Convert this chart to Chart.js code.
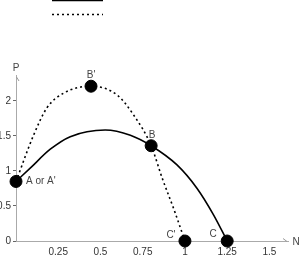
<!DOCTYPE html>
<html>
<head>
<meta charset="utf-8">
<script src="https://cdn.jsdelivr.net/npm/chart.js@4/dist/chart.umd.min.js"></script>
<style>
  html, body { margin: 0; padding: 0; background: #fff; }
</style>
</head>
<body>
<canvas id="chart" width="300" height="256"></canvas>
<script>
// Solid curve A -> B -> C
const solidX = [0, 0.084, 0.203, 0.321, 0.528, 0.677, 0.80, 0.953, 1.072, 1.17, 1.25];
const solidY = [0.85, 1.04, 1.31, 1.49, 1.585, 1.51, 1.36, 1.086, 0.75, 0.37, 0];

// Dotted curve A' -> B' -> B -> C'
const dottedX = [0, 0.104, 0.183, 0.281, 0.444, 0.598, 0.696, 0.80, 0.865, 0.935, 1.0];
const dottedY = [0.85, 1.51, 1.90, 2.11, 2.21, 2.086, 1.80, 1.36, 0.90, 0.45, 0];

// Named points
const pointNames = ["A or A'", "B'", "B", "C'", "C"];
const pointX = [0, 0.444, 0.80, 1.0, 1.25];
const pointY = [0.85, 2.21, 1.36, 0, 0];

// Tick labels
const xTicks = [0.25, 0.5, 0.75, 1, 1.25, 1.5];
const yTicks = [0, 0.5, 1, 1.5, 2];

const FONT = 'Liberation Sans, Arial, sans-serif';
const toPoints = (xs, ys) => xs.map((x, i) => ({ x: x, y: ys[i] }));

// Label offsets next to each named point (pixels)
const labelOffsets = [
    { dx: 10, dy: 0, align: 'left' },
    { dx: 0, dy: -11, align: 'center' },
    { dx: 1, dy: -10, align: 'center' },
    { dx: -14, dy: -6, align: 'center' },
    { dx: -14, dy: -7, align: 'center' }
];

/**
 * Axis names, arrow heads, point labels and the two legend lines
 */
const decorations = {
    id: 'decorations',
    afterDatasetsDraw(chart) {
        const ctx = chart.ctx;
        const area = chart.chartArea;
        ctx.save();

        // arrow heads
        ctx.strokeStyle = '#999';
        ctx.lineWidth = 1;
        ctx.beginPath();
        ctx.moveTo(area.left + 0.5, area.top + 2);
        ctx.lineTo(area.left + 3, area.top + 6);
        ctx.moveTo(area.right - 1, area.bottom + 0.5);
        ctx.lineTo(area.right - 5, area.bottom - 2.5);
        ctx.stroke();

        // axis names
        ctx.fillStyle = '#444';
        ctx.font = '10px ' + FONT;
        ctx.textAlign = 'center';
        ctx.textBaseline = 'middle';
        ctx.fillText('P', area.left, area.top - 7);
        ctx.fillText('N', area.right + 8, area.bottom + 1);

        // point labels
        const meta = chart.getDatasetMeta(2);
        meta.data.forEach((el, i) => {
            const off = labelOffsets[i];
            ctx.textAlign = off.align;
            ctx.fillText(pointNames[i], el.x + off.dx, el.y + off.dy);
        });

        // legend lines
        [0, 1].forEach((idx, row) => {
            const ds = chart.data.datasets[idx];
            ctx.strokeStyle = ds.borderColor;
            ctx.lineWidth = ds.borderWidth;
            ctx.setLineDash(ds.borderDash || []);
            ctx.beginPath();
            ctx.moveTo(52, 0.5 + row * 14);
            ctx.lineTo(103, 0.5 + row * 14);
            ctx.stroke();
        });
        ctx.restore();
    }
};

new Chart(document.getElementById('chart'), {
    type: 'line',
    data: {
        datasets: [
            {
                label: 'solid',
                data: toPoints(solidX, solidY),
                borderColor: '#000',
                borderWidth: 1.6,
                pointRadius: 0,
                cubicInterpolationMode: 'monotone',
                fill: false,
                clip: false
            },
            {
                label: 'dotted',
                data: toPoints(dottedX, dottedY),
                borderColor: '#000',
                borderWidth: 1.6,
                borderDash: [2, 3],
                pointRadius: 0,
                cubicInterpolationMode: 'monotone',
                fill: false,
                clip: false
            },
            {
                label: 'points',
                data: toPoints(pointX, pointY),
                showLine: false,
                pointRadius: 6,
                pointBackgroundColor: '#000',
                pointBorderColor: '#000',
                clip: false
            }
        ]
    },
    options: {
        responsive: false,
        animation: false,
        layout: { padding: { top: 75, right: 12, left: 0, bottom: 0 } },
        plugins: {
            legend: { display: false },
            tooltip: { enabled: false }
        },
        scales: {
            x: {
                type: 'linear',
                min: 0,
                max: 1.61,
                afterBuildTicks: (scale) => { scale.ticks = xTicks.map(v => ({ value: v })); },
                afterFit: (scale) => { scale.height = 15; },
                grid: { display: false, drawTicks: false, tickLength: 0 },
                border: { color: '#aaa', width: 1 },
                ticks: {
                    color: '#333',
                    padding: 5,
                    maxRotation: 0,
                    autoSkip: false,
                    font: { size: 10, family: FONT },
                    callback: (v) => String(v)
                }
            },
            y: {
                type: 'linear',
                min: 0,
                max: 2.37,
                afterBuildTicks: (scale) => { scale.ticks = yTicks.map(v => ({ value: v })); },
                afterFit: (scale) => { scale.width = 16; },
                grid: { drawOnChartArea: false, tickLength: 3, color: '#666' },
                border: { color: '#aaa', width: 1 },
                ticks: {
                    color: '#333',
                    padding: 2,
                    autoSkip: false,
                    font: { size: 10, family: FONT },
                    callback: (v) => String(v)
                }
            }
        }
    },
    plugins: [decorations]
});
</script>
</body>
</html>
